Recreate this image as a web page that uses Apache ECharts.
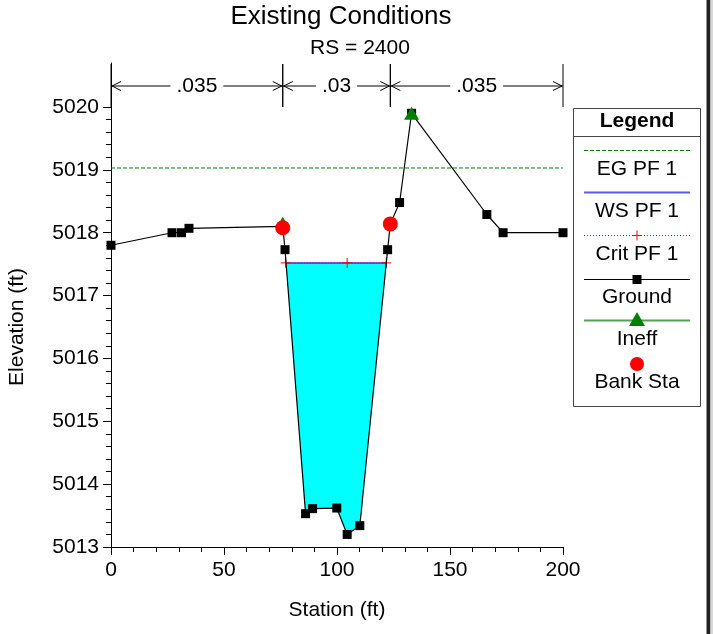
<!DOCTYPE html>
<html>
<head>
<meta charset="utf-8">
<title>Existing Conditions — RS 2400</title>
<script src="https://cdn.jsdelivr.net/npm/echarts@6/dist/echarts.min.js"></script>
<style>
  html, body { margin: 0; padding: 0; background: #fff; }
  #chart { width: 713px; height: 634px; }
</style>
</head>
<body>
<div id="chart"></div>
<script>
// Cross section geometry, RS 2400
const groundStation = [0, 27, 31.2, 34.5, 76, 77, 86.1, 89.2, 99.9, 104.5, 110.1, 122.4, 123.6, 127.7, 133, 166.3, 173.5, 200];
const groundElev    = [5017.8, 5018.0, 5018.0, 5018.07, 5018.1, 5017.73, 5013.53, 5013.61, 5013.62, 5013.2, 5013.34, 5017.73, 5018.14, 5018.48, 5019.9, 5018.29, 5018.0, 5018.0];

// Bank stations and ineffective flow limits
const bankStation = [76, 123.6];
const bankElev    = [5018.08, 5018.14];
const ineffStation = [76, 133];
const ineffElev    = [5018.15, 5019.9];

// Profile PF 1
const wsElev   = 5017.52;
const egElev   = 5019.03;
const critElev = 5017.52;
const critStation = [77.3, 104.5, 121.8];

// Manning's n regions
const nStations = [0, 76, 123.6, 200];
const nLabels   = ['.035', '.03', '.035'];

// Axis ticks
const xTicks = [0, 50, 100, 150, 200];
const yTicks = [5013, 5014, 5015, 5016, 5017, 5018, 5019, 5020];

const X_MIN = 0, X_MAX = 200, Y_MIN = 5013, Y_MAX = 5020.7;
const FONT = '"Liberation Sans", Arial, sans-serif';

const ground = groundStation.map((s, i) => [s, groundElev[i]]);
const banks = bankStation.map((s, i) => [s, bankElev[i]]);
const ineff = ineffStation.map((s, i) => [s, ineffElev[i]]);

// Where the water surface meets the ground on each side
function crossing(level, fromLeft) {
  const n = ground.length;
  const idx = fromLeft ? [...Array(n - 1).keys()] : [...Array(n - 1).keys()].reverse();
  for (const i of idx) {
    const [x1, y1] = ground[i], [x2, y2] = ground[i + 1];
    const lo = Math.min(y1, y2), hi = Math.max(y1, y2);
    if (level >= lo && level <= hi && y1 !== y2) {
      const t = (level - y1) / (y2 - y1);
      return { x: x1 + t * (x2 - x1), i };
    }
  }
  return null;
}
const wsLeft = crossing(wsElev, true);
const wsRight = crossing(wsElev, false);
const waterPoly = [[wsLeft.x, wsElev]];
for (let i = wsLeft.i + 1; i <= wsRight.i; i++) waterPoly.push(ground[i]);
waterPoly.push([wsRight.x, wsElev]);

const wsLine = [[wsLeft.x, wsElev], [wsRight.x, wsElev]];
const critLine = critStation.map(s => [s, critElev]);
const egLine = [[X_MIN, egElev], [X_MAX, egElev]];

// Minor ticks every 0.2 ft between labelled elevations
const yMinor = [];
for (let i = 0; i < yTicks.length - 1; i++) {
  for (let k = 1; k < 5; k++) yMinor.push(+(yTicks[i] + k * (yTicks[i + 1] - yTicks[i]) / 5).toFixed(2));
}

const PLUS = 'path://M5,0 L5,10 M0,5 L10,5';
const chart = echarts.init(document.getElementById('chart'), null, { renderer: 'canvas' });

const nData = nLabels.map((l, i) => [nStations[i], nStations[i + 1]]);

function bracketItem(params, api) {
  const x1 = api.coord([api.value(0), Y_MIN])[0];
  const x2 = api.coord([api.value(1), Y_MIN])[0];
  const yTop = 64, yBot = 107, yA = 86;
  const stroke = { stroke: '#000', lineWidth: 1 };
  const ah = 10, aw = 4.5;
  return {
    type: 'group',
    children: [
      { type: 'line', shape: { x1: x1, y1: yTop, x2: x1, y2: yBot }, style: stroke },
      { type: 'line', shape: { x1: x2, y1: yTop, x2: x2, y2: yBot }, style: stroke },
      { type: 'line', shape: { x1: x1, y1: yA, x2: x2, y2: yA }, style: stroke },
      { type: 'polyline', shape: { points: [[x1 + ah, yA - aw], [x1 + 1, yA], [x1 + ah, yA + aw]] }, style: { stroke: '#000', lineWidth: 1, fill: null } },
      { type: 'polyline', shape: { points: [[x2 - ah, yA - aw], [x2 - 1, yA], [x2 - ah, yA + aw]] }, style: { stroke: '#000', lineWidth: 1, fill: null } },
      { type: 'text', x: (x1 + x2) / 2, y: yA,
        style: { text: nLabels[params.dataIndex], font: '21px ' + FONT, fill: '#000', align: 'center', verticalAlign: 'middle',
                 backgroundColor: '#fff', padding: [0, 6] } }
    ]
  };
}

function waterItem(params, api) {
  if (params.dataIndex !== 0) return null;
  const pts = waterPoly.map(p => api.coord(p));
  return { type: 'polygon', shape: { points: pts }, style: { fill: '#00ffff', stroke: null } };
}

// Legend panel
const LX = 573.5, LW = 127, LCX = LX + LW / 2, L1 = 584, L2 = 690;
const legendText = (t, y, bold) => ({
  type: 'text', x: LCX, y: y,
  style: { text: t, font: (bold ? 'bold ' : '') + '21px ' + FONT, fill: '#000', align: 'center', verticalAlign: 'middle' }
});
const legend = [
  { type: 'rect', shape: { x: LX, y: 108.5, width: LW, height: 298 }, style: { fill: '#fff', stroke: '#444', lineWidth: 1 } },
  legendText('Legend', 121.5, true),
  { type: 'line', shape: { x1: LX, y1: 136.5, x2: LX + LW, y2: 136.5 }, style: { stroke: '#444', lineWidth: 1 } },
  { type: 'line', shape: { x1: L1, y1: 150.5, x2: L2, y2: 150.5 }, style: { stroke: '#008000', lineWidth: 1, lineDash: [4, 2] } },
  legendText('EG PF 1', 169),
  { type: 'line', shape: { x1: L1, y1: 192.5, x2: L2, y2: 192.5 }, style: { stroke: '#5a5af0', lineWidth: 2 } },
  legendText('WS PF 1', 211),
  { type: 'line', shape: { x1: L1, y1: 235.5, x2: L2, y2: 235.5 }, style: { stroke: '#ff0000', lineWidth: 1, lineDash: [1, 2] } },
  { type: 'line', shape: { x1: LCX - 5, y1: 235.5, x2: LCX + 5, y2: 235.5 }, style: { stroke: '#ff0000', lineWidth: 1 } },
  { type: 'line', shape: { x1: LCX, y1: 230.5, x2: LCX, y2: 240.5 }, style: { stroke: '#ff0000', lineWidth: 1 } },
  legendText('Crit PF 1', 254),
  { type: 'line', shape: { x1: L1, y1: 279.5, x2: L2, y2: 279.5 }, style: { stroke: '#000', lineWidth: 1 } },
  { type: 'rect', shape: { x: LCX - 4.5, y: 275, width: 9, height: 9 }, style: { fill: '#000' } },
  legendText('Ground', 297),
  { type: 'line', shape: { x1: L1, y1: 320.5, x2: L2, y2: 320.5 }, style: { stroke: '#4ea64e', lineWidth: 2 } },
  { type: 'polygon', shape: { points: [[LCX, 312], [LCX + 8, 326], [LCX - 8, 326]] }, style: { fill: '#008000' } },
  legendText('Ineff', 339),
  { type: 'circle', shape: { cx: LCX, cy: 364, r: 7 }, style: { fill: '#ff0000' } },
  legendText('Bank Sta', 382)
];

const plain = v => String(v);

const option = {
  backgroundColor: '#fff',
  animation: false,
  grid: { left: 111, top: 63, width: 452, height: 484, containLabel: false },
  xAxis: {
    type: 'value', min: X_MIN, max: X_MAX, interval: 50,
    name: 'Station (ft)', nameLocation: 'middle', nameGap: 53,
    nameTextStyle: { fontFamily: FONT, fontSize: 21, color: '#000' },
    axisLine: { show: true, onZero: false, lineStyle: { color: '#000', width: 1 } },
    axisTick: { show: true, length: 8, customValues: xTicks, lineStyle: { color: '#000' } },
    minorTick: { show: true, splitNumber: 5, length: 5, lineStyle: { color: '#000' } },
    axisLabel: { customValues: xTicks, formatter: plain, fontFamily: FONT, fontSize: 21, color: '#000', margin: 13 },
    splitLine: { show: false }, minorSplitLine: { show: false }
  },
  yAxis: [{
    type: 'value', min: Y_MIN, max: Y_MAX, interval: 1,
    axisLine: { show: true, onZero: false, lineStyle: { color: '#000', width: 1 } },
    axisTick: { show: true, length: 8, customValues: yTicks, lineStyle: { color: '#000' } },
    axisLabel: { customValues: yTicks, formatter: plain, fontFamily: FONT, fontSize: 21, color: '#000', margin: 12 },
    splitLine: { show: false }
  }, {
    type: 'value', min: Y_MIN, max: Y_MAX, position: 'left',
    axisLine: { show: false },
    axisTick: { show: true, length: 5, customValues: yMinor, lineStyle: { color: '#000' } },
    axisLabel: { show: false },
    splitLine: { show: false }
  }],
  graphic: [
    { type: 'text', x: 341, y: 17, style: { text: 'Existing Conditions', font: '26px ' + FONT, fill: '#000', align: 'center', verticalAlign: 'middle' } },
    { type: 'text', x: 360, y: 48, style: { text: 'RS = 2400', font: '21px ' + FONT, fill: '#000', align: 'center', verticalAlign: 'middle' } },
    { type: 'text', x: 17, y: 327, rotation: Math.PI / 2, style: { text: 'Elevation (ft)', font: '21px ' + FONT, fill: '#000', align: 'center', verticalAlign: 'middle' } },
    { type: 'rect', shape: { x: 706.5, y: 0, width: 4, height: 634 }, style: { fill: '#222' } },
    { type: 'rect', shape: { x: 710.5, y: 0, width: 2.5, height: 634 }, style: { fill: '#d8d8d8' } },
    ...legend
  ],
  series: [
    { type: 'custom', name: 'Water', renderItem: waterItem, data: waterPoly, clip: false, z: 1, silent: true },
    { type: 'line', name: 'EG PF 1', data: egLine, symbol: 'none', z: 3,
      lineStyle: { color: '#008000', width: 1, type: [4, 2] } },
    { type: 'line', name: 'WS PF 1', data: wsLine, symbol: 'none', z: 3,
      lineStyle: { color: '#3030ff', width: 1.5 } },
    { type: 'line', name: 'Crit PF 1', data: critLine, symbol: PLUS, symbolSize: 10, showAllSymbol: true, z: 4,
      itemStyle: { color: 'none', borderColor: '#ff0000', borderWidth: 1 },
      lineStyle: { color: '#ff0000', width: 1, type: [1, 2] } },
    { type: 'line', name: 'Ground', data: ground, symbol: 'rect', symbolSize: 9, showAllSymbol: true, z: 5,
      itemStyle: { color: '#000' }, lineStyle: { color: '#000', width: 1.2 } },
    { type: 'scatter', name: 'Ineff', data: ineff, symbol: 'triangle', symbolSize: [15, 13], z: 6,
      itemStyle: { color: '#008000', opacity: 1 } },
    { type: 'scatter', name: 'Bank Sta', data: banks, symbol: 'circle', symbolSize: 15, z: 7,
      itemStyle: { color: '#ff0000', opacity: 1 } },
    { type: 'custom', name: "Manning's n", renderItem: bracketItem, data: nData, clip: false, z: 8, silent: true }
  ]
};
chart.setOption(option);
</script>
</body>
</html>
